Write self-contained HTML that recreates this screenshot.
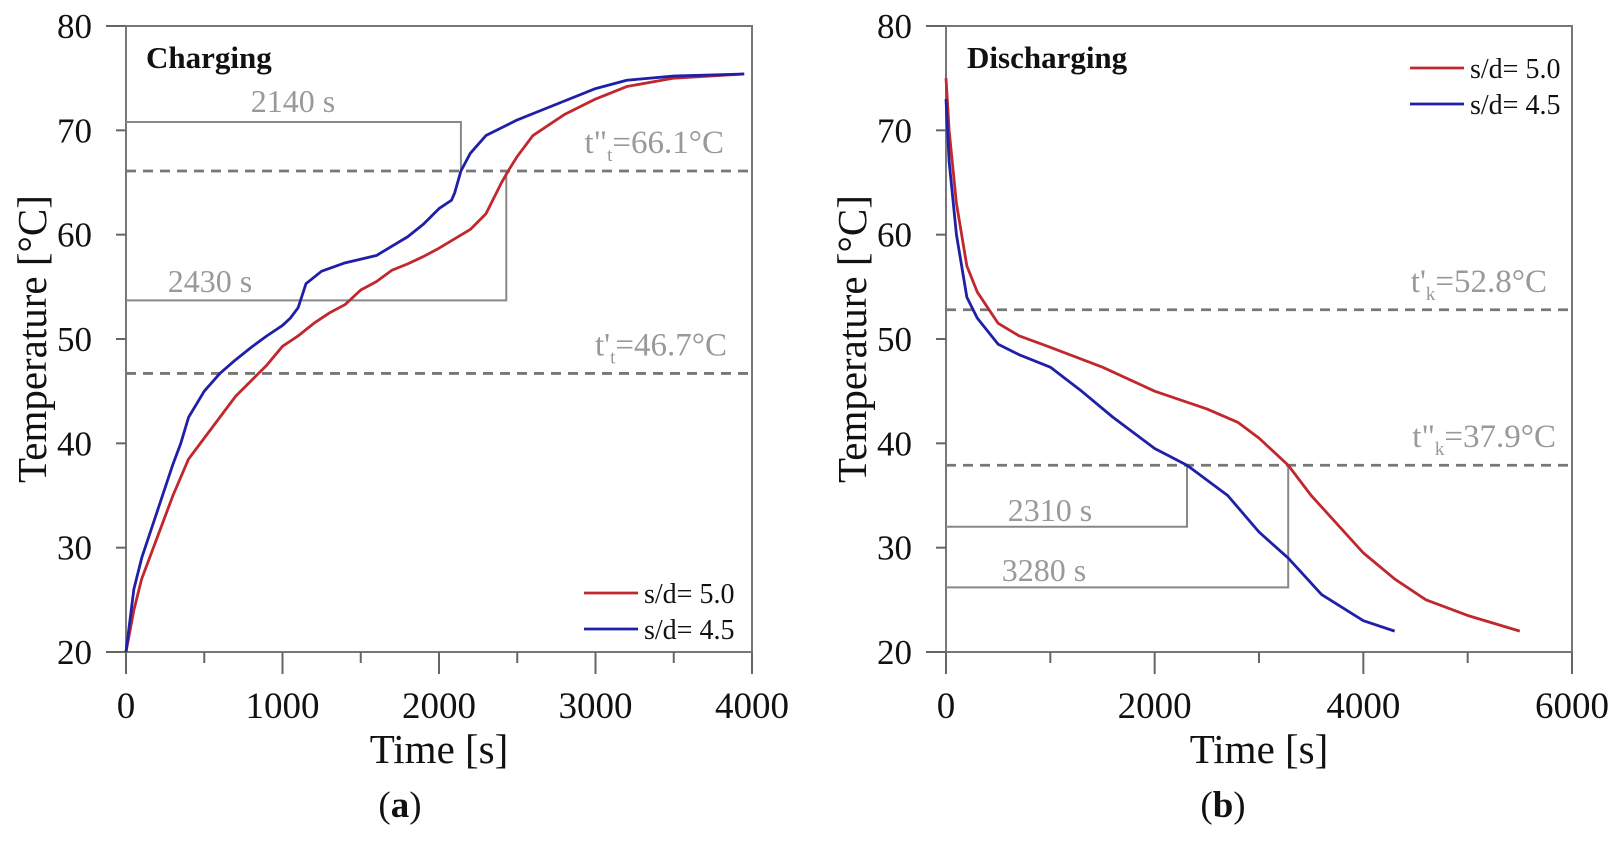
<!DOCTYPE html>
<html><head><meta charset="utf-8"><style>
body{margin:0;background:#fff}
svg{display:block;font-family:"Liberation Serif",serif}
</style></head><body>
<svg id="c" width="1619" height="844"></svg>
<script>
const chgTime5=[0,50,100,200,300,400,500,600,700,800,900,1000,1100,1200,1300,1400,1500,1600,1700,1800,1900,2000,2100,2200,2300,2400,2450,2500,2600,2800,3000,3200,3500,3950];
const chgTemp5=[20,24,27,31,35,38.5,40.5,42.5,44.5,46,47.5,49.3,50.3,51.5,52.5,53.3,54.7,55.5,56.6,57.2,57.9,58.7,59.6,60.5,62,65,66.3,67.5,69.5,71.5,73,74.2,75,75.4];
const chgTime45=[0,50,100,200,300,350,400,500,600,700,800,900,1000,1050,1100,1150,1250,1400,1600,1800,1900,2000,2080,2100,2140,2200,2300,2500,2700,3000,3200,3500,3950];
const chgTemp45=[20,26,29,33.5,38,40,42.5,45,46.7,48,49.2,50.3,51.3,52,53,55.3,56.5,57.3,58,59.8,61,62.5,63.3,64,66.1,67.8,69.5,71,72.2,74,74.8,75.2,75.4];
const disTime5=[0,30,100,200,300,500,700,1000,1500,2000,2500,2800,3000,3280,3500,4000,4300,4600,5000,5500];
const disTemp5=[75,70,63,57,54.5,51.5,50.3,49.2,47.3,45,43.3,42,40.5,37.9,35,29.5,27,25,23.5,22];
const disTime45=[0,30,100,200,300,500,700,1000,1300,1600,2000,2310,2700,3000,3280,3600,4000,4300];
const disTemp45=[73,67,60,54,52,49.5,48.5,47.3,45,42.5,39.5,37.9,35,31.5,29,25.5,23,22];
const yTicks=[20,30,40,50,60,70,80];
const xTicksA=[0,1000,2000,3000,4000];
const xTicksB=[0,2000,4000,6000];

const NS="http://www.w3.org/2000/svg";
const svg=document.getElementById('c');
function el(t,a,p){const e=document.createElementNS(NS,t);for(const k in a)e.setAttribute(k,a[k]);(p||svg).appendChild(e);return e;}
const plotTop=26,plotBot=652;
const Y=v=>plotBot-(v-20)/60*(plotBot-plotTop);

function panel(x0,x1,xmax,xTicks,minorStep,name){
  const g=el('g',{});
  
  
  const X=v=>x0+v/xmax*(x1-x0);
  const fr=el('rect',{x:x0,y:plotTop,width:x1-x0,height:plotBot-plotTop,fill:'none',stroke:'#777','stroke-width':2},g);
  
  
  yTicks.forEach((v,i)=>{
    const len=(i==0||i==yTicks.length-1)?20:10;
    el('line',{x1:x0-len,x2:x0,y1:Y(v),y2:Y(v),stroke:'#666','stroke-width':2},g);
    const t=el('text',{x:x0-34,y:Y(v)+12,'text-anchor':'end','font-size':35,fill:'#111'},g);t.textContent=v;
    
    
  });
  for(let v=0;v<=xmax;v+=minorStep){
    const major=xTicks.includes(v);
    el('line',{x1:X(v),x2:X(v),y1:plotBot,y2:plotBot+(major?22:11),stroke:'#666','stroke-width':2},g);
  }
  xTicks.forEach(v=>{
    const t=el('text',{x:X(v),y:plotBot+66,'text-anchor':'middle','font-size':37,fill:'#111'},g);t.textContent=v;
    
    
  });
  const xt=el('text',{x:(x0+x1)/2,y:plotBot+111,'text-anchor':'middle','font-size':41,fill:'#111'},g);xt.textContent='Time [s]';
  
  
  const yt=el('text',{transform:`translate(${x0-80},${(plotTop+plotBot)/2}) rotate(-90)`,'text-anchor':'middle','font-size':41,fill:'#111'},g);yt.textContent='Temperature [°C]';
  
  
  return {g,X};
}
function line(g,X,xs,ys,col,name){
  const p=el('polyline',{points:xs.map((x,i)=>X(x)+','+Y(ys[i])).join(' '),fill:'none',stroke:col,'stroke-width':2.8,'stroke-linejoin':'round'},g);
  
  
}
function hdash(g,x0,x1,v,label,lx,name){
  const l=el('line',{x1:x0,x2:x1,y1:Y(v),y2:Y(v),stroke:'#777','stroke-width':2.8,'stroke-dasharray':'10,7'},g);
  
  
  const t=el('text',{x:lx,y:Y(v)-18,'text-anchor':'end','font-size':33,fill:'#999'},g);
  t.innerHTML=label;
  
  
}
function bracket(g,X,tx,yh,yv,name){
  const p=el('polyline',{points:`${X(0)},${Y(yh)} ${X(tx)},${Y(yh)} ${X(tx)},${Y(yv)}`,fill:'none',stroke:'#888','stroke-width':2},g);
  
  
}
function txt(g,x,y,s,opts,name){const t=el('text',Object.assign({x,y},opts),g);t.textContent=s;
  
  
  return t;}
function legend(g,x,y){
  [['#c0282e','s/d= 5.0'],['#1f1fa8','s/d= 4.5']].forEach((d,i)=>{
    const yy=y+i*36;
    const l=el('line',{x1:x,x2:x+54,y1:yy,y2:yy,stroke:d[0],'stroke-width':2.8},g);
    
    
    txt(g,x+60,yy+10,d[1],{'font-size':28,fill:'#111'},'legend-entry');
  });
}

// Panel a
const A=panel(126,752,4000,xTicksA,500,'charging-chart');
bracket(A.g,A.X,2140,70.8,66.1,'bracket-2140');
bracket(A.g,A.X,2430,53.7,66.1,'bracket-2430');
hdash(A.g,126,752,66.1,'t"<tspan font-size="19" dy="8">t</tspan><tspan dy="-8">=66.1°C</tspan>',724,'upper-threshold-line');
hdash(A.g,126,752,46.7,"t'<tspan font-size=\"19\" dy=\"8\">t</tspan><tspan dy=\"-8\">=46.7°C</tspan>",727,'lower-threshold-line');
line(A.g,A.X,chgTime5,chgTemp5,'#c0282e','series-sd-5-0');
line(A.g,A.X,chgTime45,chgTemp45,'#1f1fa8','series-sd-4-5');
txt(A.g,146,68,'Charging',{'font-size':31,'font-weight':'bold',fill:'#111'},'panel-title');
txt(A.g,293,112,'2140 s',{'font-size':32,'text-anchor':'middle',fill:'#999'},'annotation-2140');
txt(A.g,210,292,'2430 s',{'font-size':32,'text-anchor':'middle',fill:'#999'},'annotation-2430');
legend(A.g,584,593);
const ca=el('text',{x:400,y:817,'text-anchor':'middle','font-size':37,fill:'#111'},A.g);ca.innerHTML='(<tspan font-weight="bold">a</tspan>)';



// Panel b
const B=panel(946,1572,6000,xTicksB,1000,'discharging-chart');
bracket(B.g,B.X,2310,32,37.9,'bracket-2310');
bracket(B.g,B.X,3280,26.2,37.9,'bracket-3280');
hdash(B.g,946,1572,52.8,"t'<tspan font-size=\"19\" dy=\"8\">k</tspan><tspan dy=\"-8\">=52.8°C</tspan>",1547,'upper-threshold-line');
hdash(B.g,946,1572,37.9,'t"<tspan font-size="19" dy="8">k</tspan><tspan dy="-8">=37.9°C</tspan>',1556,'lower-threshold-line');
line(B.g,B.X,disTime5,disTemp5,'#c0282e','series-sd-5-0');
line(B.g,B.X,disTime45,disTemp45,'#1f1fa8','series-sd-4-5');
txt(B.g,967,68,'Discharging',{'font-size':31,'font-weight':'bold',fill:'#111'},'panel-title');
txt(B.g,1050,521,'2310 s',{'font-size':32,'text-anchor':'middle',fill:'#999'},'annotation-2310');
txt(B.g,1044,581,'3280 s',{'font-size':32,'text-anchor':'middle',fill:'#999'},'annotation-3280');
legend(B.g,1410,68);
const cb=el('text',{x:1223,y:817,'text-anchor':'middle','font-size':37,fill:'#111'},B.g);cb.innerHTML='(<tspan font-weight="bold">b</tspan>)';


</script>
</body></html>
